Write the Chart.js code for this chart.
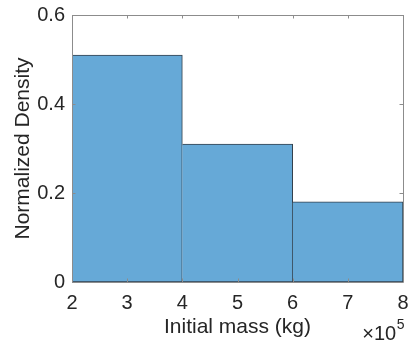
<!DOCTYPE html>
<html>
<head>
<meta charset="utf-8">
<script src="https://cdn.jsdelivr.net/npm/chart.js@4/dist/chart.umd.min.js"></script>
<style>
  html, body { margin: 0; padding: 0; background: #fff; }
  #wrap { width: 410px; height: 346px; }
</style>
</head>
<body>
<div id="wrap"><canvas id="c" width="410" height="346"></canvas></div>
<script>
// Histogram bins (initial mass, in units of 1e5 kg) and normalized densities
const binEdges = [2, 4, 6, 8];
const densities = [0.51, 0.31, 0.18];
const xTicks = [2, 3, 4, 5, 6, 7, 8];
const yTicks = [0, 0.2, 0.4, 0.6];
const xTitle = 'Initial mass (kg)';
const yTitle = 'Normalized Density';
const xExponent = '5';

const FONT = '"Liberation Sans", Arial, Helvetica, sans-serif';
const AXIS_GRAY = '#8c8c8c';
const TEXT = '#262626';

const points = densities.map((d, i) => ({ x: (binEdges[i] + binEdges[i + 1]) / 2, y: d }));

// Box around the axes, inward tick marks and the x10^5 multiplier
const matlabAxes = {
  id: 'matlabAxes',
  afterDatasetsDraw(chart) {
    const { ctx, chartArea: a, scales: { x, y } } = chart;
    ctx.save();
    ctx.strokeStyle = AXIS_GRAY;
    ctx.lineWidth = 1;
    ctx.beginPath();
    ctx.rect(Math.round(a.left) + 0.5, Math.round(a.top) + 0.5,
             Math.round(a.right) - Math.round(a.left), Math.round(a.bottom) - Math.round(a.top));
    ctx.stroke();
    const tl = 3.5;
    ctx.beginPath();
    xTicks.forEach(v => {
      const px = Math.round(x.getPixelForValue(v)) + 0.5;
      ctx.moveTo(px, a.bottom); ctx.lineTo(px, a.bottom - tl);
      ctx.moveTo(px, a.top); ctx.lineTo(px, a.top + tl);
    });
    yTicks.forEach(v => {
      const py = Math.round(y.getPixelForValue(v)) + 0.5;
      ctx.moveTo(a.left, py); ctx.lineTo(a.left + tl, py);
      ctx.moveTo(a.right, py); ctx.lineTo(a.right - tl, py);
    });
    ctx.stroke();

    // exponent label under the right end of the x axis
    ctx.fillStyle = TEXT;
    ctx.textBaseline = 'alphabetic';
    ctx.textAlign = 'left';
    ctx.font = '14px ' + FONT;
    const expW = ctx.measureText(xExponent).width;
    ctx.font = '20px ' + FONT;
    const baseW = ctx.measureText('\u00d710').width;
    const right = a.right + 1;
    const startX = right - expW - baseW;
    ctx.fillText('\u00d710', startX, a.bottom + 58);
    ctx.font = '14px ' + FONT;
    ctx.fillText(xExponent, startX + baseW + 0.5, a.bottom + 47);
    ctx.restore();
  }
};

new Chart(document.getElementById('c'), {
  type: 'bar',
  data: {
    datasets: [{
      data: points,
      backgroundColor: 'rgb(102,169,215)',
      borderColor: '#34414c',
      borderWidth: 1,
      borderSkipped: ctx => ctx.dataIndex > 0 ? 'left' : false,
      barThickness: 'flex',
      barPercentage: 1,
      categoryPercentage: 1
    }]
  },
  plugins: [matlabAxes],
  options: {
    responsive: false,
    animation: false,
    devicePixelRatio: 1,
    layout: { padding: { top: 15, right: 7, left: 0, bottom: 0 } },
    plugins: { legend: { display: false }, tooltip: { enabled: false } },
    scales: {
      x: {
        type: 'linear',
        min: binEdges[0],
        max: binEdges[binEdges.length - 1],
        offset: false,
        grid: { display: false, drawTicks: false },
        border: { display: false },
        afterBuildTicks: s => { s.ticks = xTicks.map(v => ({ value: v })); },
        afterFit: s => { s.height = 64; s.paddingLeft = 0; s.paddingRight = 0; },
        ticks: {
          padding: 9,
          color: TEXT,
          font: { family: FONT, size: 20 },
          maxRotation: 0,
          callback: v => String(v)
        },
        title: {
          display: true,
          text: xTitle,
          color: TEXT,
          font: { family: FONT, size: 21 },
          padding: { top: 0, bottom: 6 }
        }
      },
      y: {
        min: 0,
        max: 0.6,
        grid: { display: false, drawTicks: false },
        border: { display: false },
        afterBuildTicks: s => { s.ticks = yTicks.map(v => ({ value: v })); },
        afterFit: s => { s.width = 72; s.paddingTop = 0; s.paddingBottom = 0; },
        ticks: {
          padding: 7,
          color: TEXT,
          font: { family: FONT, size: 20 },
          callback: v => v === 0 ? '0' : (+v).toFixed(1)
        },
        title: {
          display: true,
          text: yTitle,
          color: TEXT,
          font: { family: FONT, size: 21 },
          padding: { top: 11, bottom: 0 }
        }
      }
    }
  }
});
</script>
</body>
</html>
